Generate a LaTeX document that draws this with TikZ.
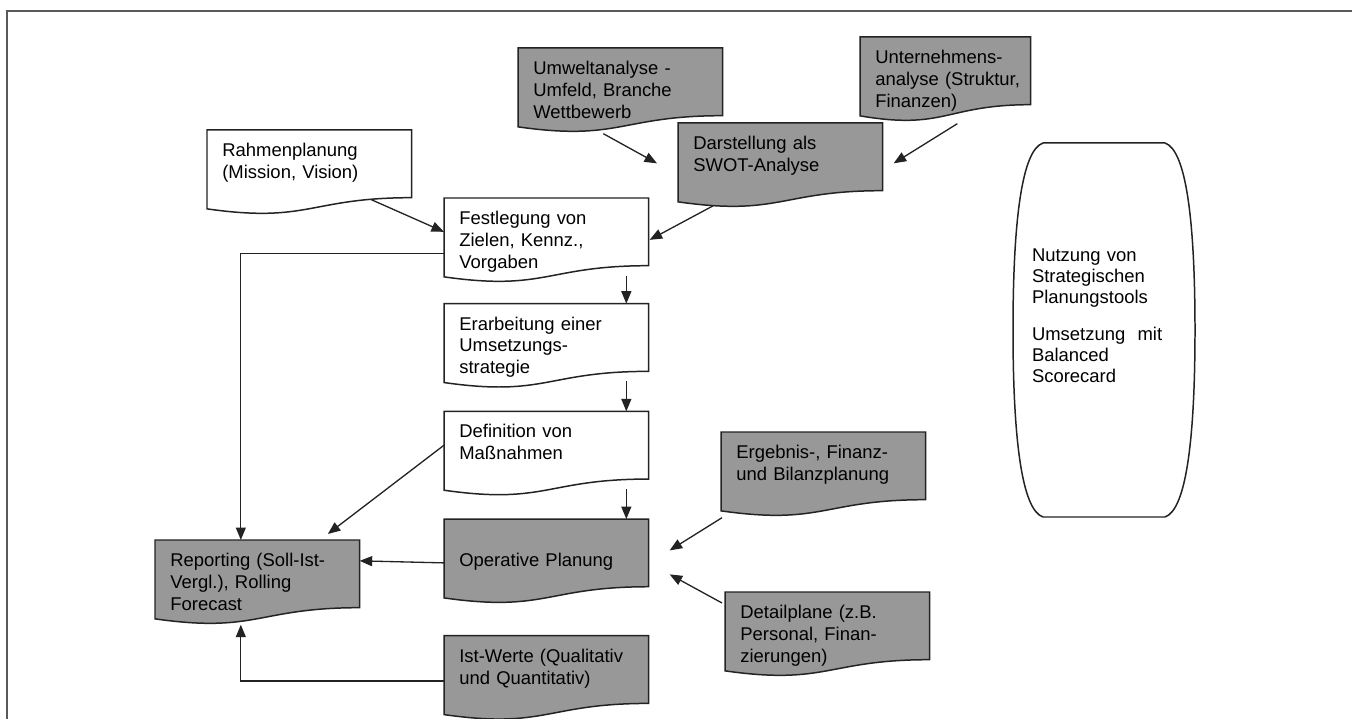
\documentclass[tikz,border=0pt]{standalone}
\usepackage{fontspec}
\setmainfont{Liberation Sans}
\usepackage{xcolor}
\usepackage{tikz}
\usetikzlibrary{arrows.meta, positioning, calc, backgrounds}

\definecolor{boxgray}{RGB}{152,152,152}
\definecolor{linegray}{RGB}{35,35,35}

\newcommand{\docshape}[2]{%
  \draw[doc_line, fill=#2] (#1.north west) -- (#1.north east) -- (#1.south east)
    .. controls (#1.south) and ($(#1.south)!-0.38!(#1.north)$)
    .. ($(#1.south west)!-0.165!(#1.north west)$) -- cycle;}

\begin{document}
\begin{tikzpicture}[
        x=0.02cm, y=-0.02cm,
        doc_block/.style={rectangle, anchor=north west, inner xsep=0.3cm, inner ysep=0pt,
                          text width=3.48cm, align=left, text height=0.52cm, text depth=0.82cm,
                          font=\fontsize{10.5pt}{12.5pt}\selectfont},
        low_text/.style={text height=0.94cm, text depth=0.40cm},
        tools_block/.style={rectangle, inner sep=0pt, text width=2.88cm, align=left,
                            font=\fontsize{10.5pt}{12pt}\selectfont},
        doc_line/.style={draw=linegray, line width=0.85pt},
        frame_line/.style={draw=black!65, line width=1.1pt},
        conn/.style={-{Triangle[length=0.25cm, width=0.2cm]}, line width=0.75pt, linegray}
    ]
    \useasboundingbox (0,0) rectangle (1352,719);
    \draw[frame_line] (7,719) -- (7,11) -- (1352,11);

    \node[doc_block] (umwelt) at (518,48) {Umweltanalyse -\\Umfeld, Branche\\Wettbewerb};
    \node[doc_block, text width=2.8cm] (unternehmen) at (860,37) {Unternehmens-\\\mbox{analyse (Struktur,}\\Finanzen)};
    \node[doc_block] (swot) at (678,123) {Darstellung als\\SWOT-Analyse};
    \node[doc_block] (rahmen) at (207,130) {Rahmenplanung\\(Mission, Vision)};
    \node[doc_block] (festlegung) at (444,198) {Festlegung von\\Zielen, Kennz.,\\Vorgaben};
    \node[doc_block, below=0.76cm of festlegung] (erarbeitung) {Erarbeitung einer\\Umsetzungs-\\strategie};
    \node[doc_block, below=0.8cm of erarbeitung] (definition) {Definition von\\Maßnahmen};
    \node[doc_block, low_text, below=0.8cm of definition] (operative) {Operative Planung};
    \node[doc_block, below=0.98cm of operative] (istwerte) {Ist-Werte (Qualitativ\\und Quantitativ)};
    \node[doc_block] (reporting) at (155,540) {Reporting (Soll-Ist-\\Vergl.), Rolling\\Forecast};
    \node[doc_block] (ergebnis) at (721,432) {Ergebnis-, Finanz-\\und Bilanzplanung};
    \node[doc_block] (detail) at (725,592) {Detailplane (z.B.\\Personal, Finan-\\zierungen)};
    \node[tools_block] (tools) at (1104,316) {Nutzung von\\Strategischen\\Planungstools\\[9pt]Umsetzung~ mit\\Balanced\\Scorecard};

    \begin{scope}[on background layer]
        \docshape{umwelt}{boxgray}
        \docshape{unternehmen}{boxgray}
        \docshape{swot}{boxgray}
        \docshape{rahmen}{white}
        \docshape{festlegung}{white}
        \docshape{erarbeitung}{white}
        \docshape{definition}{white}
        \docshape{operative}{boxgray}
        \docshape{istwerte}{boxgray}
        \docshape{reporting}{boxgray}
        \docshape{ergebnis}{boxgray}
        \docshape{detail}{boxgray}
        \draw[doc_line, fill=white] ([shift={(-61,-173)}]tools.center) -- ([shift={(61,-173)}]tools.center)
            .. controls ([shift={(82,-166)}]tools.center) and ([shift={(91,-96)}]tools.center) .. ([shift={(91,14)}]tools.center)
            .. controls ([shift={(91,124)}]tools.center) and ([shift={(82,194)}]tools.center) .. ([shift={(61,201)}]tools.center)
            -- ([shift={(-61,201)}]tools.center)
            .. controls ([shift={(-82,194)}]tools.center) and ([shift={(-91,124)}]tools.center) .. ([shift={(-91,14)}]tools.center)
            .. controls ([shift={(-91,-96)}]tools.center) and ([shift={(-82,-166)}]tools.center) .. ([shift={(-61,-173)}]tools.center)
            -- cycle;
    \end{scope}

    \draw[conn] ([shift={(-17,18)}]umwelt.south) -- ([shift={(-21,6.5)}]swot.west);
    \draw[conn] ([shift={(12,19)}]unternehmen.south) -- ([shift={(11,6.5)}]swot.east);
    \draw[conn] ([shift={(62,2)}]rahmen.south) -- (festlegung.west);
    \draw[conn] ([shift={(-67,15)}]swot.south) -- ([shift={(1,8)}]festlegung.east);
    \draw[conn] ([shift={(80,10)}]festlegung.south) -- ([shift={(80,0)}]erarbeitung.north);
    \draw[conn] ([shift={(80,10)}]erarbeitung.south) -- ([shift={(80,0)}]definition.north);
    \draw[conn] ([shift={(80,10)}]definition.south) -- ([shift={(80,0)}]operative.north);
    \draw[conn] ([shift={(0,21.5)}]festlegung.west) -| ([shift={(-16.5,0)}]reporting.north);
    \draw[conn] (definition.west) -- ([shift={(70.5,-6)}]reporting.north);
    \draw[conn] ([shift={(0,10)}]operative.west) -- ([shift={(0,-13)}]reporting.east);
    \draw[conn] ([shift={(0,11.5)}]istwerte.west) -| ([shift={(-16.5,17)}]reporting.south);
    \draw[conn] ([shift={(1,18)}]ergebnis.south west) -- ([shift={(21,-2.5)}]operative.east);
    \draw[conn] ([shift={(-3,11)}]detail.north west) -- ([shift={(21,21.5)}]operative.east);
\end{tikzpicture}
\end{document}
